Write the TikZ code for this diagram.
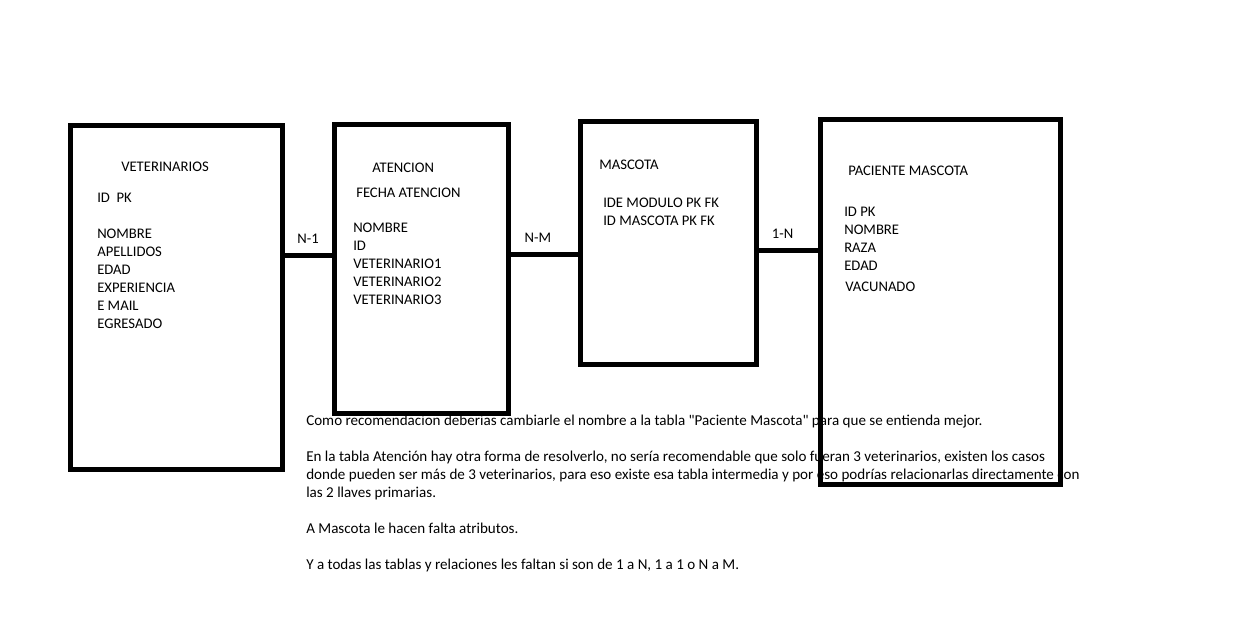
\documentclass[tikz,border=0pt]{standalone}
\usepackage{fontspec}
\setmainfont{Carlito}[Ligatures=TeXOff]
\tikzset{
  tabla/.style={draw, line width=3.75pt, inner sep=0pt},
  campos/.style={anchor=base west, inner sep=0pt, align=left,
    font=\fontsize{11pt}{13.5pt}\selectfont},
  enlace/.style={line width=3.75pt},
  card/.style={above=6.75pt, inner sep=0pt, font=\fontsize{11pt}{13.5pt}\selectfont}
}
\begin{document}
\begin{tikzpicture}[x=0.75pt,y=-0.75pt]
\useasboundingbox (0,0) rectangle (1252,622);

% texto debajo de las tablas, la base es la ultima linea
\node[campos, font=\fontsize{11.3pt}{13.5pt}\selectfont] (nota) at (306,569) {Como recomendacion deberias cambiarle el nombre a la tabla "Paciente Mascota" para que se entienda mejor.\\[13.5pt]
En la tabla Atención hay otra forma de resolverlo, no sería recomendable que solo fueran 3 veterinarios, existen los casos\\
donde pueden ser más de 3 veterinarios, para eso existe esa tabla intermedia y por eso podrías relacionarlas directamente con\\
las 2 llaves primarias.\\[13.5pt]
A Mascota le hacen falta atributos.\\[13.5pt]
Y a todas las tablas y relaciones les faltan si son de 1 a N, 1 a 1 o N a M.};

\node[tabla, minimum width={211.5*0.75pt}, minimum height={344*0.75pt}] (vet) at (176.25,297.5) {};
\node[tabla, minimum width={174.5*0.75pt}, minimum height={288.5*0.75pt}] (aten) at (421.25,268.75) {};
\node[tabla, minimum width={176*0.75pt}, minimum height={243*0.75pt}] (masc) at (668.5,243) {};
\node[tabla, minimum width={240*0.75pt}, minimum height={364.5*0.75pt}] (pac) at (940.5,301.75) {};

\node[campos] (vettit) at (121,171) {VETERINARIOS};
\node[campos] (vetcam) at (97,328) {ID\ \ PK\\[13.5pt]NOMBRE\\APELLIDOS\\EDAD\\EXPERIENCIA\\E MAIL\\EGRESADO};

\node[campos] (atentit) at (372,172) {ATENCION};
\node[campos] (atenfec) at (356,197) {FECHA ATENCION};
\node[campos] (atencam) at (353,304) {NOMBRE\\ID\\VETERINARIO1\\VETERINARIO2\\VETERINARIO3};

\node[campos] (masctit) at (599,169) {MASCOTA};
\node[campos] (masccam) at (603,225) {IDE MODULO PK FK\\ID MASCOTA PK FK};

\node[campos] (pactit) at (848,175) {PACIENTE MASCOTA};
\node[campos] (paccam) at (844,270) {ID PK\\NOMBRE\\RAZA\\EDAD};
\node[campos] (pacvac) at (845,291) {VACUNADO};

\draw[enlace] (vet.east |- 0,255) -- node[card] {N-1} (aten.west |- 0,255);
\draw[enlace] (aten.east |- 0,254) -- node[card, pos=0.4] {N-M} (masc.west |- 0,254);
\draw[enlace] (masc.east |- 0,250) -- node[card, pos=0.4] {1-N} (pac.west |- 0,250);
\end{tikzpicture}
\end{document}
